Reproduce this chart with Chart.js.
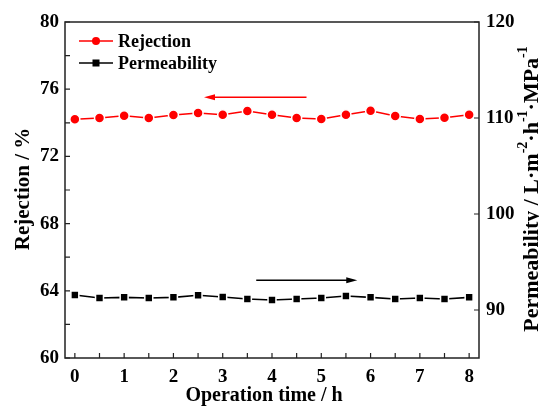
<!DOCTYPE html>
<html>
<head>
<meta charset="utf-8">
<script src="https://cdn.jsdelivr.net/npm/chart.js@4.4.1/dist/chart.umd.min.js"></script>
<style>
  html, body { margin: 0; padding: 0; background: #fff; }
  .wrap { width: 539px; height: 406px; position: relative; }
</style>
</head>
<body>
<div class="wrap"><canvas id="myChart"></canvas></div>
<script>
// values
const hours = [0, 0.5, 1, 1.5, 2, 2.5, 3, 3.5, 4, 4.5, 5, 5.5, 6, 6.5, 7, 7.5, 8];
const rejection = [74.21, 74.29, 74.42, 74.29, 74.46, 74.58, 74.48, 74.70, 74.48, 74.29, 74.23, 74.48, 74.72, 74.40, 74.23, 74.30, 74.48];
const permeability = [91.56, 91.25, 91.32, 91.25, 91.32, 91.53, 91.35, 91.15, 91.04, 91.15, 91.25, 91.46, 91.32, 91.15, 91.25, 91.15, 91.32];

const xTicks = [0, 0.5, 1, 1.5, 2, 2.5, 3, 3.5, 4, 4.5, 5, 5.5, 6, 6.5, 7, 7.5, 8];
const leftTicks = [60, 62, 64, 66, 68, 70, 72, 74, 76, 78, 80];
const rightTicks = [90, 100, 110, 120];

// arrows in data units: [x from, x to, y]
const rejArrow = [4.70, 2.62, 75.52];
const permArrow = [3.68, 5.73, 93.1];

const FONT = "'Liberation Serif', 'Times New Roman', serif";
const ctx = document.getElementById('myChart').getContext('2d');

function toPoints(xs, ys) {
  return xs.map((x, i) => ({ x: x, y: ys[i] }));
}

function drawArrow(c, x1, x2, y, color) {
  const dir = x2 > x1 ? 1 : -1;
  c.save();
  c.strokeStyle = color;
  c.fillStyle = color;
  c.lineWidth = 1.3;
  c.beginPath();
  c.moveTo(x1, y);
  c.lineTo(x2 - dir * 8, y);
  c.stroke();
  c.beginPath();
  c.moveTo(x2, y);
  c.lineTo(x2 - dir * 11, y - 3);
  c.lineTo(x2 - dir * 11, y + 3);
  c.closePath();
  c.fill();
  c.restore();
}

const decorPlugin = {
  id: 'decor',
  afterDraw(chart) {
    const c = chart.ctx;
    const a = chart.chartArea;
    const sx = chart.scales.x;
    const sl = chart.scales.yL;
    const sr = chart.scales.yR;

    c.save();
    // frame
    c.strokeStyle = '#222';
    c.lineWidth = 1.5;
    c.strokeRect(a.left, a.top, a.right - a.left, a.bottom - a.top);

    // inward tick marks
    c.lineWidth = 1.2;
    c.beginPath();
    xTicks.forEach((v) => {
      const px = sx.getPixelForValue(v);
      c.moveTo(px, a.bottom);
      c.lineTo(px, a.bottom - 5);
    });
    leftTicks.forEach((v) => {
      const py = sl.getPixelForValue(v);
      c.moveTo(a.left, py);
      c.lineTo(a.left + 5, py);
    });
    rightTicks.forEach((v) => {
      const py = sr.getPixelForValue(v);
      c.moveTo(a.right, py);
      c.lineTo(a.right - 5, py);
    });
    c.stroke();

    // arrows
    drawArrow(c, sx.getPixelForValue(rejArrow[0]), sx.getPixelForValue(rejArrow[1]), sl.getPixelForValue(rejArrow[2]), '#ff0000');
    drawArrow(c, sx.getPixelForValue(permArrow[0]), sx.getPixelForValue(permArrow[1]), sr.getPixelForValue(permArrow[2]), '#000');

    // legend
    const rows = [{ ds: chart.data.datasets[0], y: 41 }, { ds: chart.data.datasets[1], y: 63 }];
    rows.forEach((r) => {
      c.strokeStyle = r.ds.borderColor;
      c.fillStyle = r.ds.borderColor;
      c.lineWidth = 1.6;
      c.beginPath();
      c.moveTo(79, r.y);
      c.lineTo(113, r.y);
      c.stroke();
      if (r.ds.pointStyle === 'rect') {
        c.fillRect(92.5, r.y - 3.5, 7, 7);
      } else {
        c.beginPath();
        c.arc(96, r.y, 4, 0, Math.PI * 2);
        c.fill();
      }
      c.fillStyle = '#000';
      c.font = 'bold 18px ' + FONT;
      c.textAlign = 'left';
      c.textBaseline = 'middle';
      c.fillText(r.ds.label, 118, r.y + 1);
    });

    // axis titles
    c.fillStyle = '#000';
    c.textAlign = 'center';
    c.textBaseline = 'middle';
    c.font = 'bold 20px ' + FONT;
    c.fillText('Operation time / h', 264, 396);

    c.font = 'bold 21px ' + FONT;
    c.save();
    c.translate(24, 189);
    c.rotate(-Math.PI / 2);
    c.fillText('Rejection / %', 0, 0);
    c.restore();

    // right title with superscripts
    const parts = [
      ['Permeability / L\u00b7m', false], ['-2', true], ['\u00b7h', false], ['-1', true], ['\u00b7MPa', false], ['-1', true],
    ];
    const big = 'bold 22px ' + FONT;
    const small = 'bold 14px ' + FONT;
    let total = 0;
    parts.forEach((p) => {
      c.font = p[1] ? small : big;
      total += c.measureText(p[0]).width;
    });
    c.save();
    c.translate(532, 189);
    c.rotate(-Math.PI / 2);
    c.textAlign = 'left';
    let pos = -total / 2;
    parts.forEach((p) => {
      c.font = p[1] ? small : big;
      c.fillText(p[0], pos, p[1] ? -9 : 0);
      pos += c.measureText(p[0]).width;
    });
    c.restore();

    c.restore();
  },
};

const tickFont = { family: FONT, size: 19, weight: 'bold' };

const myChart = new Chart(ctx, {
  type: 'line',
  data: {
    datasets: [
      {
        label: 'Rejection',
        data: toPoints(hours, rejection),
        yAxisID: 'yL',
        borderColor: '#ff0000',
        backgroundColor: '#ff0000',
        borderWidth: 1.6,
        pointStyle: 'circle',
        pointRadius: 5,
        pointBorderColor: '#fff',
        pointBorderWidth: 1.5,
        pointBackgroundColor: '#ff0000',
        tension: 0,
      },
      {
        label: 'Permeability',
        data: toPoints(hours, permeability),
        yAxisID: 'yR',
        borderColor: '#000',
        backgroundColor: '#000',
        borderWidth: 1.6,
        pointStyle: 'rect',
        pointRadius: 5.6,
        pointBorderColor: '#fff',
        pointBorderWidth: 1.5,
        pointBackgroundColor: '#000',
        tension: 0,
      },
    ],
  },
  options: {
    responsive: true,
    maintainAspectRatio: false,
    animation: false,
    layout: { padding: { top: 22, left: 0, right: 0, bottom: 0 } },
    plugins: {
      legend: { display: false },
      tooltip: { enabled: false },
    },
    scales: {
      x: {
        type: 'linear',
        min: -0.2,
        max: 8.2,
        grid: { display: true, drawOnChartArea: false, drawTicks: false },
        border: { display: false },
        afterBuildTicks: (s) => { s.ticks = xTicks.map((v) => ({ value: v })); },
        afterFit: (s) => { s.height = 48; },
        ticks: {
          autoSkip: false,
          maxRotation: 0,
          padding: 8,
          color: '#000',
          font: tickFont,
          callback: (v) => (Number.isInteger(v) ? v : ''),
        },
      },
      yL: {
        position: 'left',
        min: 60,
        max: 80,
        grid: { display: true, drawOnChartArea: false, drawTicks: false },
        border: { display: false },
        afterBuildTicks: (s) => { s.ticks = leftTicks.map((v) => ({ value: v })); },
        afterFit: (s) => { s.width = 65; },
        ticks: {
          autoSkip: false,
          padding: 6,
          color: '#000',
          font: tickFont,
          callback: (v) => (v % 4 === 0 ? v : ''),
        },
      },
      yR: {
        position: 'right',
        min: 85,
        max: 120,
        grid: { display: true, drawOnChartArea: false, drawTicks: false },
        border: { display: false },
        afterBuildTicks: (s) => { s.ticks = rightTicks.map((v) => ({ value: v })); },
        afterFit: (s) => { s.width = 60; },
        ticks: {
          autoSkip: false,
          padding: 7,
          color: '#000',
          font: tickFont,
        },
      },
    },
  },
  plugins: [decorPlugin],
});
</script>
</body>
</html>
